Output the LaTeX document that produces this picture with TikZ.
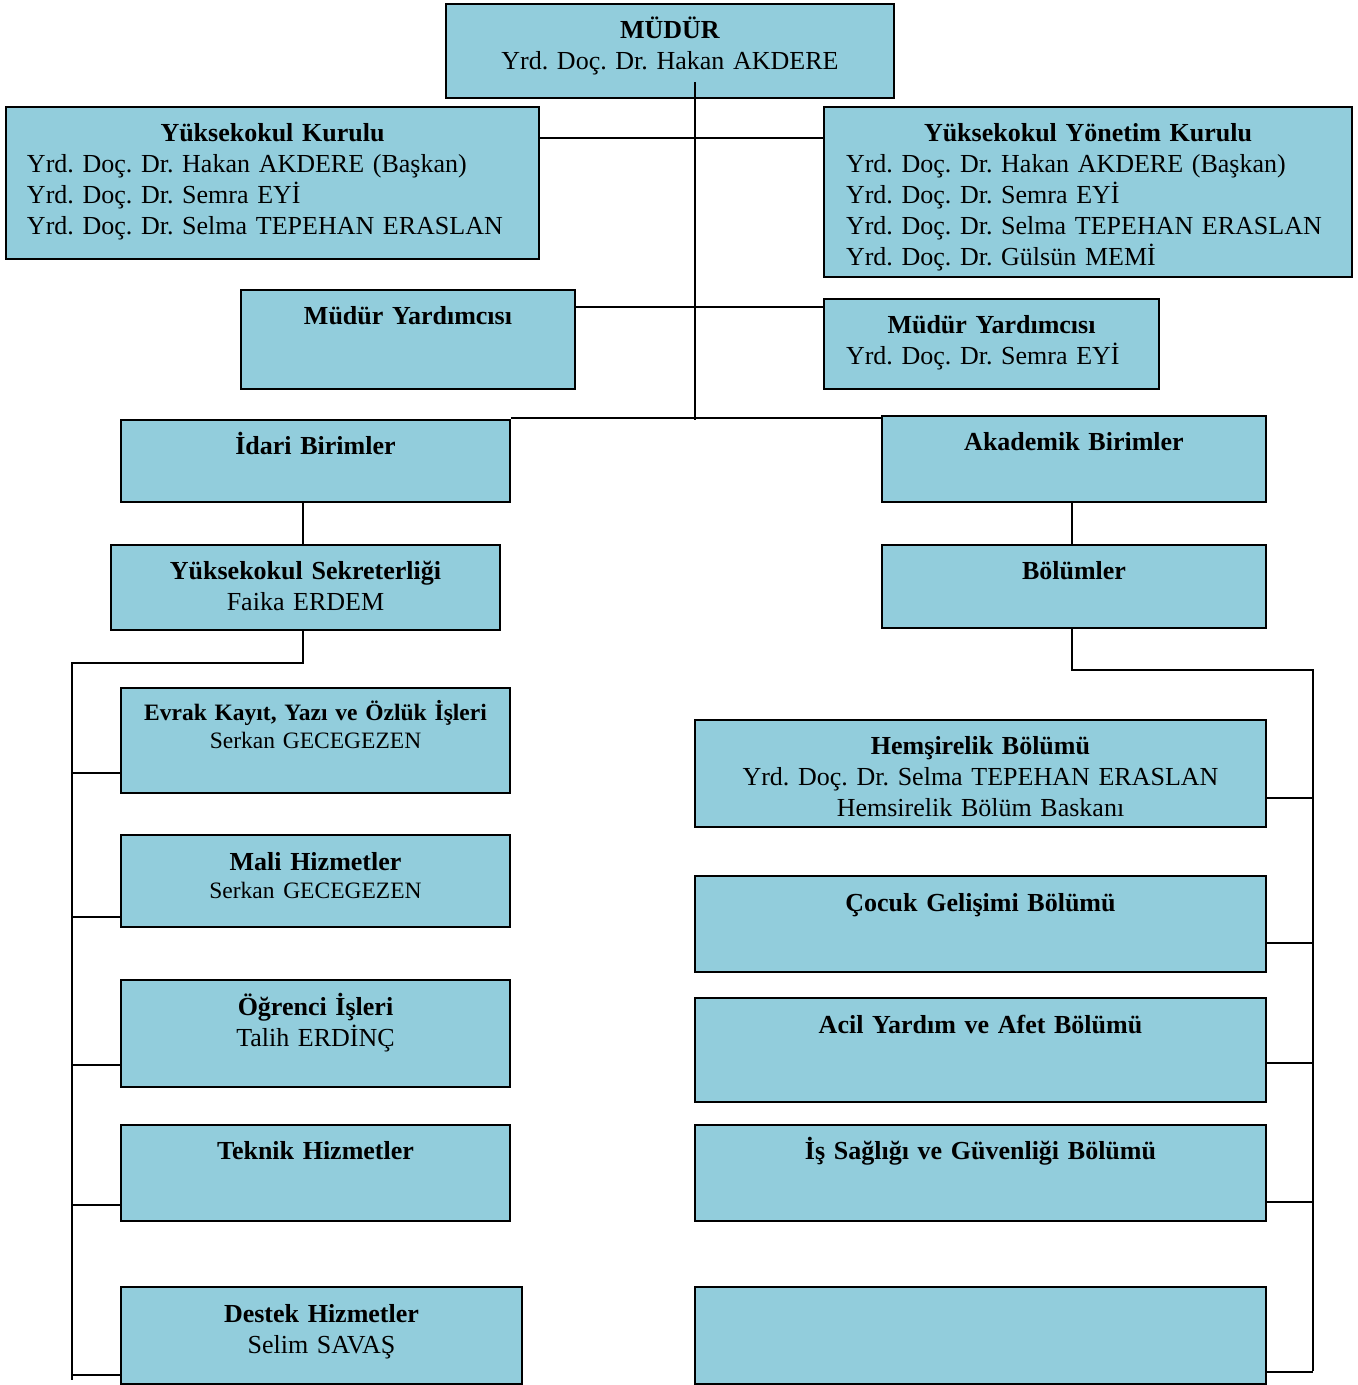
\documentclass[tikz,border=0pt]{standalone}
\usepackage{fontspec}
\setmainfont{Liberation Serif}
\usepackage{xcolor}
\definecolor{boxblue}{HTML}{92CDDC}

\begin{document}
\frenchspacing
\begin{tikzpicture}[x=1pt,y=-1pt,line width=1.6pt,
  box node/.style={rectangle,fill=boxblue,draw,inner sep=0pt},
  text node/.style={anchor=base,inner sep=0pt,text width=600pt,
    execute at begin node=\centering,
    font=\fontsize{26}{31}\selectfont},
  list node/.style={anchor=base,inner sep=0pt,
    execute at begin node=\raggedright,
    font=\fontsize{26}{31}\selectfont}]

  \useasboundingbox (0,0) rectangle (1358,1385);

  % boxes
  \node[box node,minimum width=448pt,minimum height=94pt] (mudur) at (670,51) {};
  \node[box node,minimum width=533pt,minimum height=152pt] (kurul) at (272.5,183) {};
  \node[box node,minimum width=528pt,minimum height=170pt] (yonetim) at (1088,192) {};
  \node[box node,minimum width=334pt,minimum height=99pt] (myl) at (408,339.5) {};
  \node[box node,minimum width=335pt,minimum height=90pt] (myr) at (991.5,344) {};
  \node[box node,minimum width=389pt,minimum height=82pt] (idari) at (315.5,461) {};
  \node[box node,minimum width=384pt,minimum height=86pt] (akad) at (1074,459) {};
  \node[box node,minimum width=389pt,minimum height=85pt] (sekr) at (305.5,587.5) {};
  \node[box node,minimum width=384pt,minimum height=83pt] (bolum) at (1074,586.5) {};
  \node[box node,minimum width=389pt,minimum height=105pt] (evrak) at (315.5,740.5) {};
  \node[box node,minimum width=389pt,minimum height=92pt] (mali) at (315.5,881) {};
  \node[box node,minimum width=389pt,minimum height=107pt] (ogr) at (315.5,1033.5) {};
  \node[box node,minimum width=389pt,minimum height=96pt] (teknik) at (315.5,1173) {};
  \node[box node,minimum width=401pt,minimum height=97pt] (destek) at (321.5,1335.5) {};
  \node[box node,minimum width=571pt,minimum height=107pt] (hems) at (980.5,773.5) {};
  \node[box node,minimum width=571pt,minimum height=96pt] (cocuk) at (980.5,924) {};
  \node[box node,minimum width=571pt,minimum height=104pt] (acil) at (980.5,1050) {};
  \node[box node,minimum width=571pt,minimum height=96pt] (isg) at (980.5,1173) {};
  \node[box node,minimum width=571pt,minimum height=97pt] (bos) at (980.5,1335.5) {};

  % texts
  \node[text node] (mudur-t) at ([yshift=-35pt]mudur.north)
    {\textbf{MÜDÜR}\\Yrd. Doç. Dr. Hakan AKDERE};
  \node[list node,text width=491pt] (kurul-t) at ([yshift=-35pt]kurul.north)
    {{\centering\textbf{Yüksekokul Kurulu}\par}
     Yrd. Doç. Dr. Hakan AKDERE (Başkan)\\
     Yrd. Doç. Dr. Semra EYİ\\
     Yrd. Doç. Dr. Selma TEPEHAN ERASLAN};
  \node[list node,text width=484pt] (yonetim-t) at ([yshift=-35pt]yonetim.north)
    {{\centering\textbf{Yüksekokul Yönetim Kurulu}\par}
     Yrd. Doç. Dr. Hakan AKDERE (Başkan)\\
     Yrd. Doç. Dr. Semra EYİ\\
     Yrd. Doç. Dr. Selma TEPEHAN ERASLAN\\
     Yrd. Doç. Dr. Gülsün MEMİ};
  \node[text node] (myl-t) at ([yshift=-35pt]myl.north) {\textbf{Müdür Yardımcısı}};
  \node[list node,text width=291pt] (myr-t) at ([yshift=-35pt]myr.north)
    {{\centering\textbf{Müdür Yardımcısı}\par}
     Yrd. Doç. Dr. Semra EYİ};
  \node[text node] (idari-t) at ([yshift=-35pt]idari.north) {\textbf{İdari Birimler}};
  \node[text node] (akad-t) at ([yshift=-35pt]akad.north) {\textbf{Akademik Birimler}};
  \node[text node] (sekr-t) at ([yshift=-35pt]sekr.north)
    {\textbf{Yüksekokul Sekreterliği}\\Faika ERDEM};
  \node[text node] (bolum-t) at ([yshift=-35pt]bolum.north) {\textbf{Bölümler}};
  \node[text node,font=\fontsize{23.5}{28}\selectfont] (evrak-t) at ([yshift=-33pt]evrak.north)
    {\textbf{Evrak Kayıt, Yazı ve Özlük İşleri}\\Serkan GECEGEZEN};
  \node[text node] (mali-t) at ([yshift=-36pt]mali.north)
    {\textbf{Mali Hizmetler}\\[-3pt]{\fontsize{23.5}{28}\selectfont Serkan GECEGEZEN}};
  \node[text node] (ogr-t) at ([yshift=-36pt]ogr.north)
    {\textbf{Öğrenci İşleri}\\Talih ERDİNÇ};
  \node[text node] (teknik-t) at ([yshift=-35pt]teknik.north) {\textbf{Teknik Hizmetler}};
  \node[text node] (destek-t) at ([yshift=-36pt]destek.north)
    {\textbf{Destek Hizmetler}\\Selim SAVAŞ};
  \node[text node] (hems-t) at ([yshift=-35pt]hems.north)
    {\textbf{Hemşirelik Bölümü}\\Yrd. Doç. Dr. Selma TEPEHAN ERASLAN\\Hemsirelik Bölüm Baskanı};
  \node[text node] (cocuk-t) at ([yshift=-36pt]cocuk.north) {\textbf{Çocuk Gelişimi Bölümü}};
  \node[text node] (acil-t) at ([yshift=-36pt]acil.north) {\textbf{Acil Yardım ve Afet Bölümü}};
  \node[text node] (isg-t) at ([yshift=-35pt]isg.north) {\textbf{İş Sağlığı ve Güvenliği Bölümü}};

  % connectors
  \coordinate (trunk top) at (695,82);
  \coordinate (trunk end) at (695,420);
  \coordinate (my row) at (0,307);
  \coordinate (birim row) at (0,418);
  \coordinate (lbus) at (72,1380);
  \coordinate (rbus) at (1313,1371);

  \draw (trunk top) -- (trunk end);
  \draw ([yshift=-32pt]kurul.north east) -- ([yshift=-32pt]yonetim.north west);
  \draw (myl.east |- my row) -- (myr.west |- my row);
  \draw (idari.east |- birim row) -- (akad.west |- birim row);

  \draw (idari.south -| 303,0) -- (sekr.north -| 303,0);
  \draw (akad.south -| 1072,0) -- (bolum.north -| 1072,0);

  \draw (sekr.south -| 303,0) -- ++(0,32) -| (lbus);
  \draw (bolum.south -| 1072,0) -- ++(0,41) -| (rbus);

  \foreach \b/\d in {evrak/21,mali/11,ogr/23,teknik/17,destek/10}
    \draw ([yshift=\d pt]\b.south west) -- ([yshift=\d pt]\b.south west -| lbus);
  \foreach \b/\d in {hems/30,cocuk/30,acil/40,isg/20,bos/13}
    \draw ([yshift=\d pt]\b.south east) -- ([yshift=\d pt]\b.south east -| rbus);
\end{tikzpicture}
\end{document}
